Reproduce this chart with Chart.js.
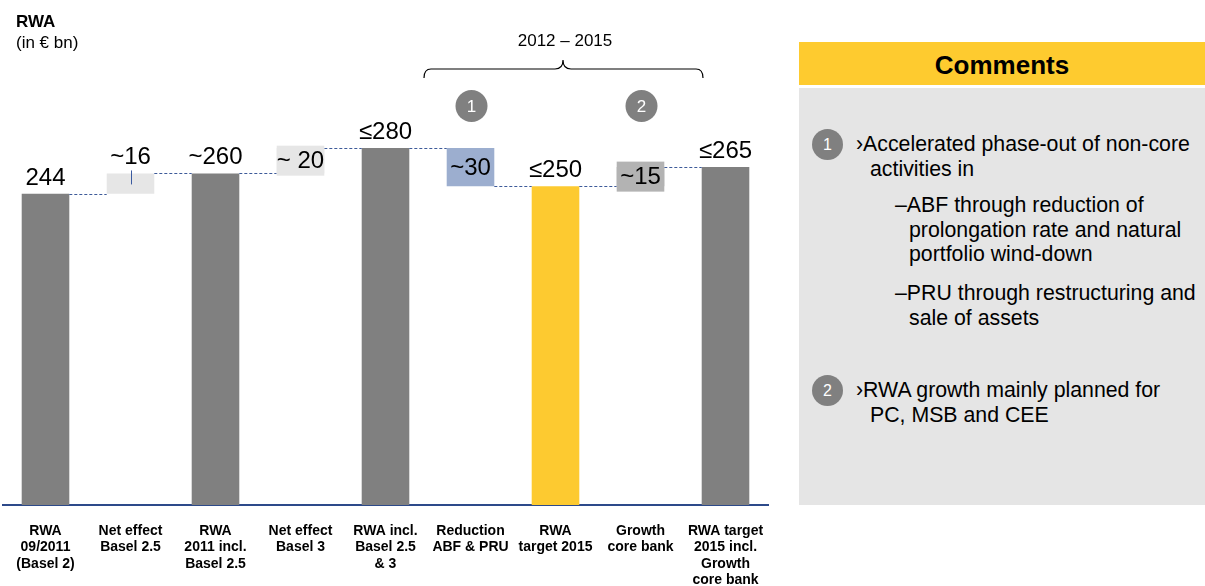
<!DOCTYPE html>
<html>
<head>
<meta charset="utf-8">
<script src="https://cdn.jsdelivr.net/npm/chart.js@4/dist/chart.umd.min.js"></script>
<style>
  html, body { margin: 0; padding: 0; background: #fff; }
  body { width: 1205px; height: 586px; position: relative; overflow: hidden; font-family: Arial, "Liberation Sans", sans-serif; color: #000; }
  #wrap { position: absolute; left: 0; top: 0; width: 790px; height: 586px; }
  .abs { position: absolute; white-space: nowrap; }
  #title { left: 16px; top: 11px; font-size: 17px; line-height: 21px; }
  #period { left: 500px; width: 130px; text-align: center; top: 31px; font-size: 17px; line-height: 20px; }
  #head { left: 799px; top: 42px; width: 406px; height: 43px; background: #fecb2f; font-weight: bold; font-size: 26px; line-height: 47px; text-align: center; }
  #panel { left: 799px; top: 88px; width: 406px; height: 417px; background: #e5e5e5; }
  .txt { position: absolute; font-size: 21.3px; line-height: 24.5px; white-space: nowrap; }
  .num { position: absolute; width: 31px; height: 31px; border-radius: 50%; background: #808080; color: #fff; font-size: 16px; line-height: 31px; text-align: center; }
</style>
</head>
<body>
<div id="wrap"><canvas id="chart" width="790" height="586"></canvas></div>
<div id="title" class="abs"><b>RWA</b><br>(in € bn)</div>
<div id="period" class="abs">2012 – 2015</div>
<div id="head" class="abs">Comments</div>
<div id="panel" class="abs"></div>
<div class="num" style="left:812px;top:129px">1</div>
<div class="txt" style="left:856px;top:132px">›Accelerated phase-out of non-core<br><span style="padding-left:14px">activities in</span></div>
<div class="txt" style="left:895px;top:193px">–ABF through reduction of<br><span style="padding-left:14px">prolongation rate and natural</span><br><span style="padding-left:14px">portfolio wind-down</span></div>
<div class="txt" style="left:895px;top:281px">–PRU through restructuring and<br><span style="padding-left:14px">sale of assets</span></div>
<div class="num" style="left:812px;top:375px">2</div>
<div class="txt" style="left:856px;top:378px">›RWA growth mainly planned for<br><span style="padding-left:14px">PC, MSB and CEE</span></div>
<script>
const categories = [
  ["RWA", "09/2011", "(Basel 2)"],
  ["Net effect", "Basel 2.5"],
  ["RWA", "2011 incl.", "Basel 2.5"],
  ["Net effect", "Basel 3"],
  ["RWA incl.", "Basel 2.5", "& 3"],
  ["Reduction", "ABF & PRU"],
  ["RWA", "target 2015"],
  ["Growth", "core bank"],
  ["RWA target", "2015 incl.", "Growth", "core bank"]
];
const barStart = [0, 244, 0, 260, 0, 250, 0, 250, 0];
const barEnd = [244, 260, 260, 280, 280, 280, 250, 265, 265];
const valueLabels = ["244", "~16", "~260", "~ 20", "≤280", "~30", "≤250", "~15", "≤265"];
const labelInside = [false, false, false, true, false, true, false, true, false];
const markerNumbers = ["1", "2"];
const markerCategories = [5, 7];

const barColors = ["#808080", "#e6e6e6", "#808080", "#e6e6e6", "#808080", "#9caecf", "#fdca30", "#b3b3b3", "#808080"];
const FONT = 'Arial, "Liberation Sans", sans-serif';

const waterfallDecor = {
  id: "waterfallDecor",
  afterDatasetsDraw(chart) {
    const ctx = chart.ctx;
    const bars = chart.getDatasetMeta(0).data;
    const yScale = chart.scales.y;
    ctx.save();

    // dashed connectors between neighbouring bars
    ctx.strokeStyle = "#3d5a99";
    ctx.lineWidth = 1;
    ctx.setLineDash([3, 2]);
    for (let i = 0; i < bars.length - 1; i++) {
      const a = [barStart[i], barEnd[i]], b = [barStart[i + 1], barEnd[i + 1]];
      const level = a.find(v => v !== 0 && b.includes(v));
      if (level == null) continue;
      const y = Math.round(yScale.getPixelForValue(level)) + 0.5;
      ctx.beginPath();
      ctx.moveTo(bars[i].x + bars[i].width / 2, y);
      ctx.lineTo(bars[i + 1].x - bars[i + 1].width / 2, y);
      ctx.stroke();
    }
    ctx.setLineDash([]);

    // small tick inside the Basel 2.5 box
    const b1 = bars[1];
    ctx.strokeStyle = "#3a5aa0";
    ctx.beginPath();
    ctx.moveTo(Math.round(b1.x) + 0.5, b1.y - 3);
    ctx.lineTo(Math.round(b1.x) + 0.5, b1.y + 11);
    ctx.stroke();

    // value labels
    ctx.font = "24px " + FONT;
    ctx.fillStyle = "#000";
    ctx.textAlign = "center";
    bars.forEach((bar, i) => {
      const top = Math.min(bar.y, bar.base), bottom = Math.max(bar.y, bar.base);
      if (labelInside[i]) {
        const cy = (top + bottom) / 2;
        if (bottom - top < 28) {
          ctx.fillStyle = barColors[i];
          ctx.fillRect(bar.x - bar.width / 2, cy - 15, bar.width, 30);
          ctx.fillStyle = "#000";
        }
        ctx.textBaseline = "middle";
        ctx.fillText(valueLabels[i], bar.x, cy + 1);
      } else {
        ctx.textBaseline = "alphabetic";
        ctx.fillText(valueLabels[i], bar.x, top - 9);
      }
    });

    // numbered markers
    markerCategories.forEach((c, k) => {
      const x = bars[c].x + 1;
      ctx.fillStyle = "#808080";
      ctx.beginPath();
      ctx.arc(x, 106, 16, 0, Math.PI * 2);
      ctx.fill();
      ctx.fillStyle = "#fff";
      ctx.font = "17px " + FONT;
      ctx.textBaseline = "middle";
      ctx.fillText(markerNumbers[k], x, 107);
    });

    // brace over 2012-2015
    const L = 424, R = 703, M = 563, yb = 69;
    ctx.strokeStyle = "#000";
    ctx.lineWidth = 1.2;
    ctx.beginPath();
    ctx.moveTo(L, yb + 9);
    ctx.quadraticCurveTo(L, yb, L + 7, yb);
    ctx.lineTo(M - 8, yb);
    ctx.quadraticCurveTo(M, yb, M, yb - 9);
    ctx.quadraticCurveTo(M, yb, M + 8, yb);
    ctx.lineTo(R - 7, yb);
    ctx.quadraticCurveTo(R, yb, R, yb + 9);
    ctx.stroke();
    ctx.restore();
  }
};

new Chart(document.getElementById("chart"), {
  type: "bar",
  data: {
    labels: categories,
    datasets: [{
      data: barStart.map((s, i) => [s, barEnd[i]]),
      backgroundColor: barColors,
      borderWidth: 0,
      categoryPercentage: 1,
      barPercentage: 0.56
    }]
  },
  options: {
    responsive: false,
    animation: false,
    events: [],
    layout: { padding: { left: 3, right: 22, top: 0, bottom: 0 } },
    plugins: { legend: { display: false }, tooltip: { enabled: false } },
    scales: {
      y: { display: false, min: 0, max: 396 },
      x: {
        afterFit(scale) {
          scale.height = 81;
          scale.paddingLeft = 0;
          scale.paddingRight = 0;
        },
        grid: { display: false, drawTicks: false },
        border: { display: true, color: "#2d4a8a", width: 2 },
        ticks: {
          color: "#000",
          font: { family: FONT, size: 14, weight: "bold", lineHeight: 1.17 },
          padding: 18,
          maxRotation: 0,
          autoSkip: false
        }
      }
    }
  },
  plugins: [waterfallDecor]
});
</script>
</body>
</html>
